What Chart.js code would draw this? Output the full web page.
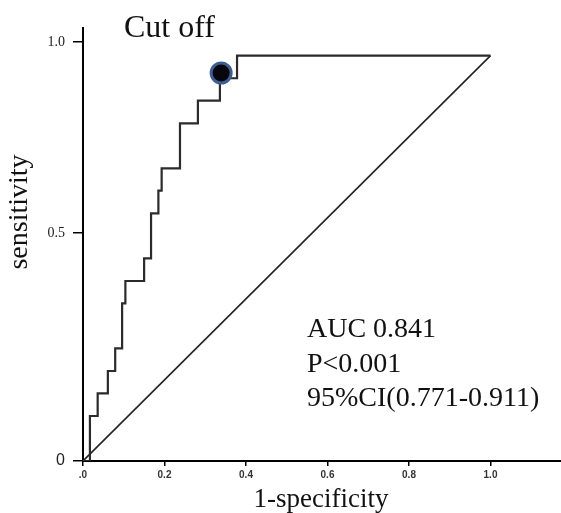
<!DOCTYPE html>
<html>
<head>
<meta charset="utf-8">
<script src="https://cdn.jsdelivr.net/npm/chart.js@4/dist/chart.umd.min.js"></script>
<style>
  html, body { margin: 0; padding: 0; background: #fff; }
  #wrap { width: 561px; height: 513px; }
</style>
</head>
<body>
<div id="wrap"><canvas id="roc" width="561" height="513"></canvas></div>
<script>
// ROC curve: 1-specificity (x) vs sensitivity (y), step corners
var fprValues  = [0, 0.017, 0.036, 0.061, 0.079, 0.096, 0.104, 0.150, 0.167, 0.185, 0.193, 0.238, 0.282, 0.336, 0.378, 1.0];
var sensValues = [0, 0.111, 0.167, 0.222, 0.278, 0.389, 0.444, 0.500, 0.611, 0.667, 0.722, 0.833, 0.889, 0.944, 1.0, 1.0];

// reference diagonal
var refX = [0, 1];
var refY = [0, 1];

// cut off point
var cutX = [0.339];
var cutY = [0.957];

// ticks as printed on the figure
var xTickValues = [0, 0.2, 0.4, 0.6, 0.8, 1.0];
var xTickLabels = [".0", "0.2", "0.4", "0.6", "0.8", "1.0"];
var yTickValues = [0, 0.562, 1.033];
var yTickLabels = ["0", "0.5", "1.0"];

var statLines = ["AUC 0.841", "P<0.001", "95%CI(0.771-0.911)"];

function toPoints(xs, ys) {
  return xs.map(function (x, i) { return { x: x, y: ys[i] }; });
}

var textPlugin = {
  id: 'rocText',
  afterDraw: function (chart) {
    var c = chart.ctx;
    c.save();
    c.fillStyle = '#111';
    c.textBaseline = 'alphabetic';
    c.textAlign = 'left';
    c.font = '32px "Liberation Serif", "Times New Roman", serif';
    c.fillText('Cut off', 124, 37);
    c.font = '28px "Liberation Serif", "Times New Roman", serif';
    statLines.forEach(function (t, i) {
      c.fillText(t, 307, 337 + i * 34.5);
    });
    // axis titles
    c.textAlign = 'center';
    c.font = '27px "Liberation Serif", "Times New Roman", serif';
    c.fillText('1-specificity', 321, 507);
    c.translate(27, 212);
    c.rotate(-Math.PI / 2);
    c.font = '28px "Liberation Serif", "Times New Roman", serif';
    c.fillText('sensitivity', 0, 0);
    c.restore();
  }
};

var ctx = document.getElementById("roc");
var rocChart = new Chart(ctx, {
  type: 'scatter',
  data: {
    datasets: [{
        data: toPoints(cutX, cutY),
        pointRadius: 10,
        pointBorderWidth: 3,
        pointBorderColor: '#3d5d92',
        pointBackgroundColor: '#06060c',
        order: 0
      }, {
        data: toPoints(fprValues, sensValues),
        showLine: true,
        stepped: 'before',
        borderColor: '#2b2b2b',
        borderWidth: 2.2,
        pointRadius: 0,
        fill: false,
        order: 1
      }, {
        data: toPoints(refX, refY),
        showLine: true,
        borderColor: '#222',
        borderWidth: 1.6,
        pointRadius: 0,
        fill: false,
        order: 2
      }
    ]
  },
  options: {
    responsive: false,
    animation: false,
    layout: { autoPadding: false, padding: { top: 28, right: 0, left: 0, bottom: 0 } },
    plugins: {
      legend: { display: false },
      tooltip: { enabled: false }
    },
    scales: {
      x: {
        type: 'linear',
        min: 0,
        max: 1.173,
        afterFit: function (s) {
          s.height = 52;
          s.paddingLeft = 0;
          s.paddingRight = 0;
        },
        afterBuildTicks: function (s) {
          s.ticks = xTickValues.map(function (v) { return { value: v }; });
        },
        ticks: {
          autoSkip: false,
          maxRotation: 0,
          padding: 3,
          color: '#333',
          font: { family: '"Liberation Sans", Arial, sans-serif', size: 10, weight: 'bold' },
          callback: function (v) { return xTickLabels[xTickValues.indexOf(v)]; }
        },
        grid: { drawOnChartArea: false, drawTicks: true, tickLength: 5, color: '#000', lineWidth: 1.5 },
        border: { display: true, color: '#000', width: 2 }
      },
      y: {
        type: 'linear',
        min: 0,
        max: 1.068,
        afterFit: function (s) {
          s.width = 83;
          s.paddingTop = 0;
          s.paddingBottom = 0;
        },
        afterBuildTicks: function (s) {
          s.ticks = yTickValues.map(function (v) { return { value: v }; });
        },
        ticks: {
          autoSkip: false,
          padding: 8,
          color: '#222',
          font: function (c) {
            if (c.tick && c.tick.value === 0) {
              return { family: '"Liberation Sans", Arial, sans-serif', size: 16 };
            }
            return { family: '"Liberation Serif", "Times New Roman", serif', size: 14 };
          },
          callback: function (v) { return yTickLabels[yTickValues.indexOf(v)]; }
        },
        grid: { drawOnChartArea: false, drawTicks: true, tickLength: 10, color: '#000', lineWidth: 1.5 },
        border: { display: true, color: '#000', width: 2 }
      }
    }
  },
  plugins: [textPlugin]
});
</script>
</body>
</html>
